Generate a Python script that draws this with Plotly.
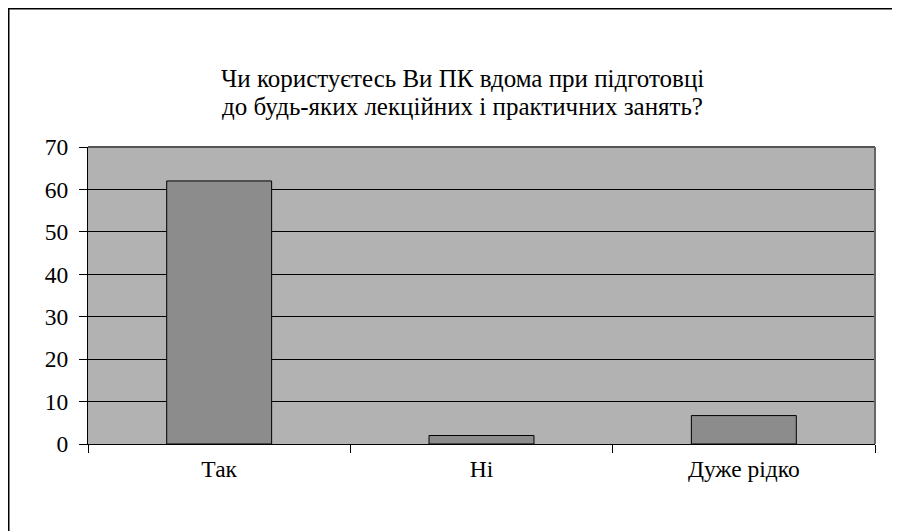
import plotly.graph_objects as go

categories = ["Так", "Ні", "Дуже рідко"]
values = [62, 2, 6.7]
y_ticks = [0, 10, 20, 30, 40, 50, 60, 70]
title_lines = ["Чи користуєтесь Ви ПК вдома при підготовці",
               "до будь-яких лекційних і практичних занять?"]

OFF = 8  # page body margin
W, H = 900, 531
L, R, T, B = 88 - OFF, 25 + OFF, 147 - OFF, 87 + OFF
pw, ph = W - L - R, H - T - B
SERIF = "Liberation Serif, Times New Roman, serif"

fig = go.Figure(go.Bar(
    x=categories, y=values,
    marker=dict(color="#8c8c8c", line=dict(color="#000000", width=1)),
    width=0.4,
))

fig.update_layout(
    width=W, height=H,
    margin=dict(l=L, r=R, t=T, b=B, autoexpand=False),
    paper_bgcolor="white",
    plot_bgcolor="#b2b2b2",
    showlegend=False,
    font=dict(family=SERIF, size=23, color="#000"),
)
for i, (line, ypage) in enumerate(zip(title_lines, [79, 106])):
    fig.add_annotation(text=line, showarrow=False, xref="paper", yref="paper",
                       x=(462 - OFF - L) / pw, xanchor="center",
                       y=1 + (T - (ypage - OFF)) / ph, yanchor="middle",
                       font=dict(size=25, family=SERIF, color="#000"))
fig.update_xaxes(
    type="category", tickson="boundaries", ticks="outside", ticklen=8,
    tickcolor="#000", showline=True, linecolor="#000", linewidth=1,
    showgrid=False, tickfont=dict(size=23.5, family=SERIF), range=[-0.5, 2.5],
    ticklabelstandoff=4,
)
fig.update_yaxes(
    range=[0, 70], tickvals=y_ticks, ticks="outside", ticklen=8,
    tickcolor="#000", showline=True, linecolor="#000", linewidth=1,
    showgrid=True, gridcolor="#000", gridwidth=1, zeroline=False,
    tickfont=dict(size=23.5, family=SERIF), ticklabelstandoff=6,
)
# plot-area top/right border
fig.add_shape(type="line", xref="paper", yref="paper", x0=0, x1=1, y0=1, y1=1,
              line=dict(color="#555", width=2))
fig.add_shape(type="line", xref="paper", yref="paper", x0=1, x1=1, y0=0, y1=1,
              line=dict(color="#666", width=2))
# outer chart frame (extends past the right and bottom edges)
fig.add_shape(type="rect", xref="paper", yref="paper",
              x0=(0.5 - L) / pw, x1=(W + 20 - L) / pw,
              y0=-(H + 20 - T - ph) / ph, y1=1 + (T - 0.5) / ph,
              line=dict(color="#000", width=2), layer="below")

fig.write_html("out.html")
